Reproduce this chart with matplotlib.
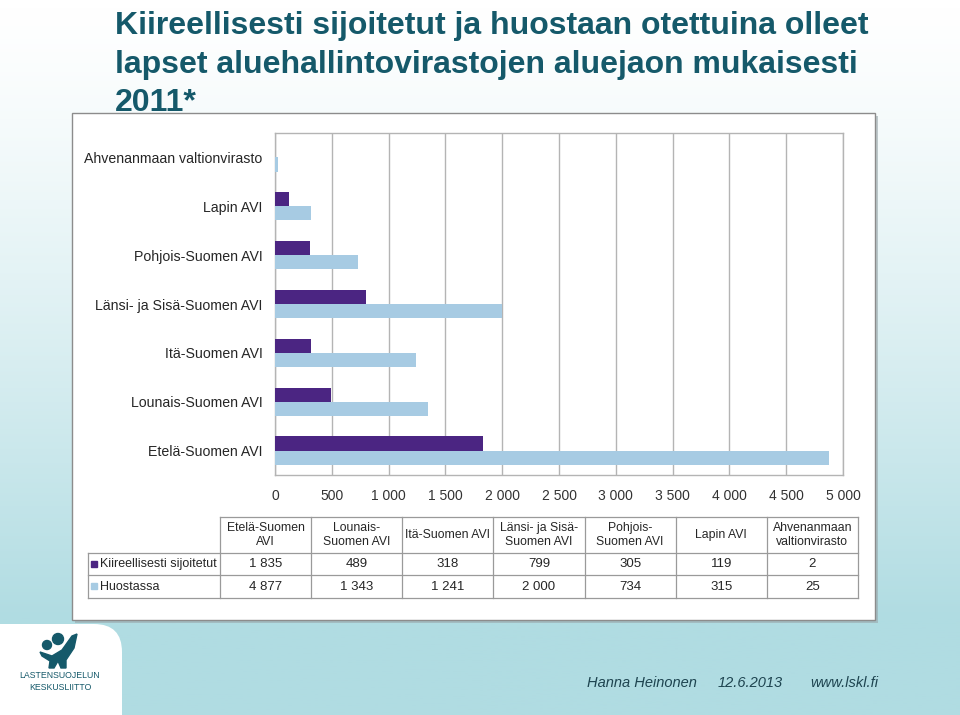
"""Kiireellisesti sijoitetut ja huostassa olleet lapset AVI-alueittain 2011."""

import numpy as np
import matplotlib
matplotlib.use("Agg")
import matplotlib.pyplot as plt
from matplotlib import font_manager
from matplotlib.patches import Rectangle, FancyBboxPatch, Circle, Polygon
from matplotlib.colors import LinearSegmentedColormap
from matplotlib.ticker import FuncFormatter, MultipleLocator

# --- data -------------------------------------------------------------------
categories = [
    "Etelä-Suomen AVI",
    "Lounais-Suomen AVI",
    "Itä-Suomen AVI",
    "Länsi- ja Sisä-Suomen AVI",
    "Pohjois-Suomen AVI",
    "Lapin AVI",
    "Ahvenanmaan valtionvirasto",
]
kiireelliset = [1835, 489, 318, 799, 305, 119, 2]
huostassa = [4877, 1343, 1241, 2000, 734, 315, 25]
series_names = ["Kiireellisesti sijoitetut", "Huostassa"]
table_headers = [
    "Etelä-Suomen\nAVI",
    "Lounais-\nSuomen AVI",
    "Itä-Suomen AVI",
    "Länsi- ja Sisä-\nSuomen AVI",
    "Pohjois-\nSuomen AVI",
    "Lapin AVI",
    "Ahvenanmaan\nvaltionvirasto",
]
title_lines = [
    "Kiireellisesti sijoitetut ja huostaan otettuina olleet",
    "lapset aluehallintovirastojen aluejaon mukaisesti",
    "2011*",
]
footer = ["Hanna Heinonen", "12.6.2013", "www.lskl.fi"]

PURPLE = "#4b2582"
LIGHT = "#a7cbe3"
TEAL = "#15596a"
BAND = "#b0dce2"

_names = {f.name for f in font_manager.fontManager.ttflist}
NARROW = "Liberation Sans Narrow" if "Liberation Sans Narrow" in _names else "Liberation Sans"
plt.rcParams["font.family"] = ["Liberation Sans", "DejaVu Sans"]

W, H = 960, 715
fig = plt.figure(figsize=(W / 100, H / 100), dpi=100)


def fx(px):
    return px / W


def fy(py):
    return 1 - py / H


# --- slide background -------------------------------------------------------
bg = fig.add_axes([0, 0, 1, 1], zorder=-10)
bg.set_axis_off()
ramp = np.clip(np.linspace(0, H, 400) / 620.0, 0, 1) ** 1.3
cmap = LinearSegmentedColormap.from_list("bg", ["#ffffff", BAND])
bg.imshow(ramp[:, None], aspect="auto", cmap=cmap, extent=[0, W, H, 0], vmin=0, vmax=1)
bg.set_xlim(0, W)
bg.set_ylim(H, 0)
bg.add_patch(FancyBboxPatch((-40, 624), 162, 140, boxstyle="round,pad=0,rounding_size=28",
                            facecolor="white", edgecolor="none"))

# chart panel with a soft shadow
bg.add_patch(Rectangle((75, 116), 803, 507, facecolor="#9aa8ab", edgecolor="none", alpha=0.6))
bg.add_patch(Rectangle((72, 113), 803, 507, facecolor="white", edgecolor="#8c8c8c", lw=1.0))

# logo
bg.add_patch(Circle((47, 645), 4.5, color=TEAL))
bg.add_patch(Circle((58, 639), 5.5, color=TEAL))
bg.add_patch(Polygon([[40, 652], [52, 656], [62, 650], [72, 636], [77, 634], [74, 648],
                      [66, 660], [66, 668], [61, 668], [58, 661], [54, 668], [49, 668],
                      [50, 661], [42, 656]], closed=True, color=TEAL))
bg.text(60, 676, "LASTENSUOJELUN", ha="center", va="center", fontsize=6.3, color=TEAL)
bg.text(60, 687, "KESKUSLIITTO", ha="center", va="center", fontsize=6.3, color=TEAL)

# title
for i, line in enumerate(title_lines):
    fig.text(fx(115), fy(34 + 38.5 * i), line, ha="left", va="baseline",
             fontsize=23, fontweight="bold", color=TEAL)

# footer
for x, s in zip([587, 718, 810], footer):
    fig.text(fx(x), fy(687), s, ha="left", va="baseline", fontsize=10.5,
             style="italic", color="#1e4450")

# --- bar chart --------------------------------------------------------------
ax = fig.add_axes([fx(275), fy(475), fx(843) - fx(275), fy(133) - fy(475)])
y = np.arange(len(categories))
h = 0.29
ax.barh(y + h / 2, kiireelliset, height=h, color=PURPLE, label=series_names[0], zorder=3)
ax.barh(y - h / 2, huostassa, height=h, color=LIGHT, label=series_names[1], zorder=3)
ax.set_xlim(0, 5000)
ax.set_ylim(-0.5, len(categories) - 0.5)
ax.xaxis.set_major_locator(MultipleLocator(500))
ax.xaxis.set_major_formatter(FuncFormatter(lambda v, _: f"{int(v):,}".replace(",", " ")))
ax.set_yticks(y)
ax.set_yticklabels(categories, fontsize=10.2, family=NARROW, color="#262626")
for lbl in ax.get_xticklabels():
    lbl.set_family(NARROW)
    lbl.set_fontsize(10)
    lbl.set_color("#333333")
ax.tick_params(axis="both", length=0)
ax.tick_params(axis="x", pad=10)
ax.tick_params(axis="y", pad=9)
ax.grid(axis="x", color="#b4b4b4", lw=1.0, zorder=0)
for sp in ax.spines.values():
    sp.set_color("#b4b4b4")
    sp.set_linewidth(1.0)

# --- data table -------------------------------------------------------------
col_edges = np.linspace(220, 858, len(table_headers) + 1)
row_edges = [517, 553, 575, 598]
lc, lw = "#9a9a9a", 0.9
tcolor = "#262626"

bg.plot([220, 858], [row_edges[0]] * 2, color=lc, lw=lw)
for ry in row_edges[1:]:
    bg.plot([88, 858], [ry, ry], color=lc, lw=lw)
bg.plot([88, 88], [row_edges[1], row_edges[3]], color=lc, lw=lw)
for cx in col_edges:
    bg.plot([cx, cx], [row_edges[0], row_edges[3]], color=lc, lw=lw)

for j, head in enumerate(table_headers):
    cx = (col_edges[j] + col_edges[j + 1]) / 2
    bg.text(cx, (row_edges[0] + row_edges[1]) / 2, head, ha="center", va="center",
            fontsize=8.8, family=NARROW, color=tcolor, linespacing=1.15)

rows = [kiireelliset, huostassa]
colors = [PURPLE, LIGHT]
for r, (name, vals, c) in enumerate(zip(series_names, rows, colors)):
    cy = (row_edges[r + 1] + row_edges[r + 2]) / 2
    bg.add_patch(Rectangle((91, cy - 3.5), 6, 6, color=c))
    bg.text(100, cy, name, ha="left", va="center", fontsize=9, family=NARROW, color=tcolor)
    for j, v in enumerate(vals):
        cx = (col_edges[j] + col_edges[j + 1]) / 2
        bg.text(cx, cy, f"{v:,}".replace(",", " "), ha="center", va="center",
                fontsize=9.5, family=NARROW, color=tcolor)

fig.savefig("out.png", dpi=100)
